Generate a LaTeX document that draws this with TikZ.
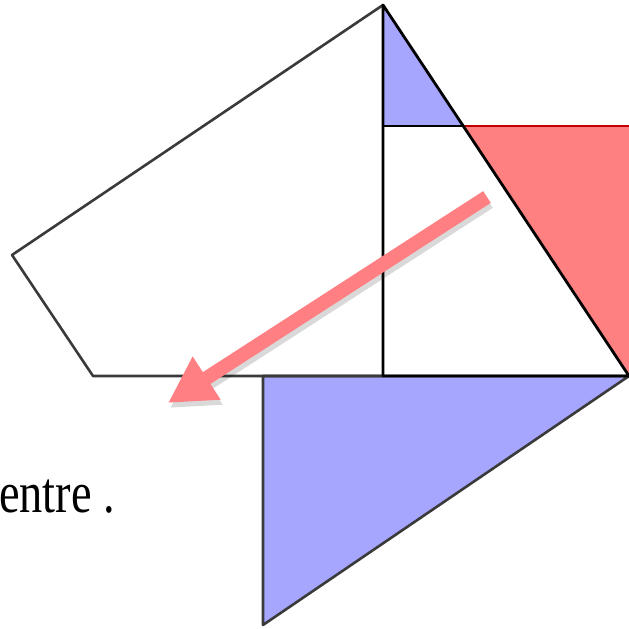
\documentclass[tikz,border=0pt]{standalone}
\usepackage{fontspec}
\setmainfont{Liberation Serif}
\usepackage{tikz}
\usetikzlibrary{arrows.meta,calc}
\usepackage{xcolor}
\definecolor{piece}{HTML}{A6A6FF}
\definecolor{spare}{HTML}{FF8080}
\definecolor{spareedge}{HTML}{C00000}
\definecolor{edge}{HTML}{3A3A3A}
\definecolor{pointer}{HTML}{FF7F82}

\begin{document}
\begin{tikzpicture}[x=1pt,y=-1pt,
    outline/.style={edge,line width=2.6pt,line join=round},
    cut/.style={black,line width=2.8pt,line join=round},
    pointer arrow/.style={pointer,line width=14pt,
      -{Triangle[length=46pt,width=48pt]}}]
  \useasboundingbox (0,0) rectangle (629,629);
  \clip (0,0) rectangle (629,629);

  % corner points of the figure
  \coordinate (apex) at (383,5);
  \coordinate (left) at (12,255);
  \coordinate (foot) at (93,376);
  \coordinate (base) at (383,376);
  \coordinate (sqtop) at (383,126);
  \coordinate (meet) at (463,126);
  \coordinate (right) at (629,376);
  \coordinate (tritop) at (263,376);
  \coordinate (trilow) at (263,625);

  % coloured pieces
  \fill[spare] (meet) -- (650,126) -- (650,407) -- cycle;
  \draw[spareedge,line width=2.8pt] (meet) -- (650,126);
  \fill[piece] (apex) -- (sqtop) -- (meet) -- cycle;
  \filldraw[piece,draw=edge,line width=2.6pt,line join=round]
    (tritop) -- (right) -- (trilow) -- cycle;

  % outlines
  \draw[outline] (apex) -- (left) -- (foot) -- (base);
  \draw[cut] (apex) -- (base) -- (right) -- cycle;
  \draw[cut] (sqtop) -- (meet);

  % moving arrow
  \coordinate (from) at (487,197);
  \coordinate (to) at (168,403);
  \draw[pointer arrow,black,opacity=0.15] ($(from)+(2,5)$) -- ($(to)+(2,5)$);
  \draw[pointer arrow] (from) -- (to);

  \node[anchor=base west,inner sep=0pt,xscale=0.8,
    font=\fontsize{58}{70}\selectfont] (label) at (-1,512) {entre .};
\end{tikzpicture}
\end{document}
